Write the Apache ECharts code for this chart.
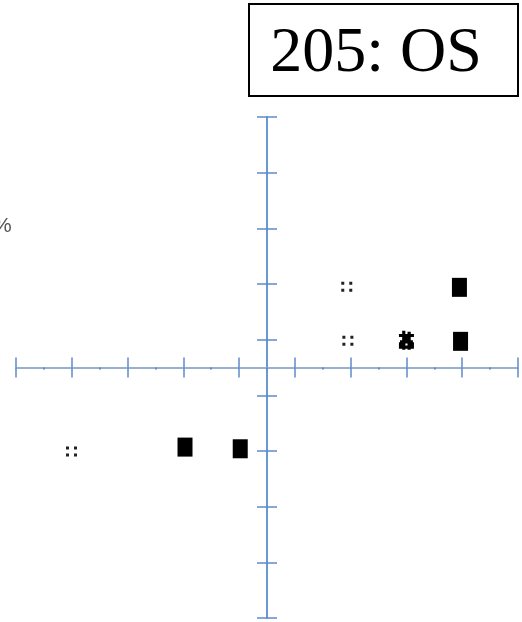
<!DOCTYPE html>
<html>
<head>
<meta charset="utf-8">
<style>
html,body{margin:0;padding:0;background:#fff;}
#chart{width:522px;height:622px;}
</style>
<script src="https://cdn.jsdelivr.net/npm/echarts@6/dist/echarts.min.js"></script>
</head>
<body>
<div id="chart"></div>
<script>
// Data (axis units: 0..9 on both axes, axes cross at 4.5)
const titleText = "205: OS";
const unitLabel = "%";
const squareX = [7.95, 7.97, 3.03, 4.02];
const squareY = [5.94, 4.97, 3.07, 3.04];
const dotsX = [5.93, 5.95, 0.995];
const dotsY = [5.95, 4.98, 2.99];
const glyphX = [7.0];
const glyphY = [4.99];
const axisMin = 0, axisMax = 9, axisStep = 1;

const zip = (xs, ys) => xs.map((x, i) => [x, ys[i]]);

const chart = echarts.init(document.getElementById('chart'));
const gridLeft = 16, gridRight = 4, gridTop = 117, gridBottom = 4;
const gw = 522 - gridLeft - gridRight;
const gh = 622 - gridTop - gridBottom;
const hLine = '#9ab0cf', vLine = '#6a96d2', tickCol = '#5f8bcb';

function xAx(inside, showLine) {
  return {
    type: 'value', min: axisMin, max: axisMax, interval: axisStep,
    position: 'bottom', offset: -gh / 2,
    axisLine: { show: showLine, onZero: false, lineStyle: { color: hLine, width: 2 } },
    axisTick: { show: true, inside: inside, length: 10, lineStyle: { color: tickCol, width: 1.5 } },
    minorTick: { show: showLine, splitNumber: 2, length: 2, lineStyle: { color: tickCol, width: 2 } },
    axisLabel: { show: false }, splitLine: { show: false }, minorSplitLine: { show: false }
  };
}
function yAx(inside, showLine) {
  return {
    type: 'value', min: axisMin, max: axisMax, interval: axisStep,
    position: 'left', offset: -gw / 2,
    axisLine: { show: showLine, onZero: false, lineStyle: { color: vLine, width: 2 } },
    axisTick: { show: true, inside: inside, length: 10, lineStyle: { color: tickCol, width: 1.5 } },
    axisLabel: { show: false }, splitLine: { show: false }
  };
}

const dotsPath = 'path://M0,0h3v3h-3z M8,0h3v3h-3z M0,7h3v3h-3z M8,7h3v3h-3z';
const glyphPath = 'path://M3,0h3v18h-3z M8,1h3v17h-3z M0,3h14v3h-14z M1,9h12v3h-12z M0,14h14v3h-14z M5,6h3v3h-3z M10,11h4v3h-4z M0,11h3v3h-3z';

chart.setOption({
  backgroundColor: '#fff',
  animation: false,
  grid: { left: gridLeft, right: gridRight, top: gridTop, bottom: gridBottom },
  xAxis: [xAx(false, true), xAx(true, false)],
  yAxis: [yAx(false, true), yAx(true, false)],
  series: [
    { type: 'scatter', xAxisIndex: 0, yAxisIndex: 0, data: zip(squareX, squareY),
      symbol: 'rect', symbolSize: [15, 19], itemStyle: { color: '#000', opacity: 1 }, z: 5 },
    { type: 'scatter', xAxisIndex: 0, yAxisIndex: 0, data: zip(dotsX, dotsY),
      symbol: dotsPath, symbolSize: [11, 10], itemStyle: { color: '#222', opacity: 1 }, z: 5 },
    { type: 'scatter', xAxisIndex: 0, yAxisIndex: 0, data: zip(glyphX, glyphY),
      symbol: glyphPath, symbolSize: [15, 19], itemStyle: { color: '#000', opacity: 1 }, z: 5 }
  ],
  graphic: [
    { type: 'rect', shape: { x: 249, y: 4, width: 269, height: 92 },
      style: { fill: '#fff', stroke: '#000', lineWidth: 2 }, z: 10 },
    { type: 'text', x: 376, y: 54, z: 11,
      style: { text: titleText, fontSize: 64, fontFamily: '"Liberation Serif", "Times New Roman", serif',
        fill: '#000', textAlign: 'center', textVerticalAlign: 'middle' } },
    { type: 'text', x: -7, y: 226, z: 11,
      style: { text: unitLabel, fontSize: 21, fontFamily: '"Liberation Sans", Arial, sans-serif',
        fill: '#555', textAlign: 'left', textVerticalAlign: 'middle' } }
  ]
});
</script>
</body>
</html>
